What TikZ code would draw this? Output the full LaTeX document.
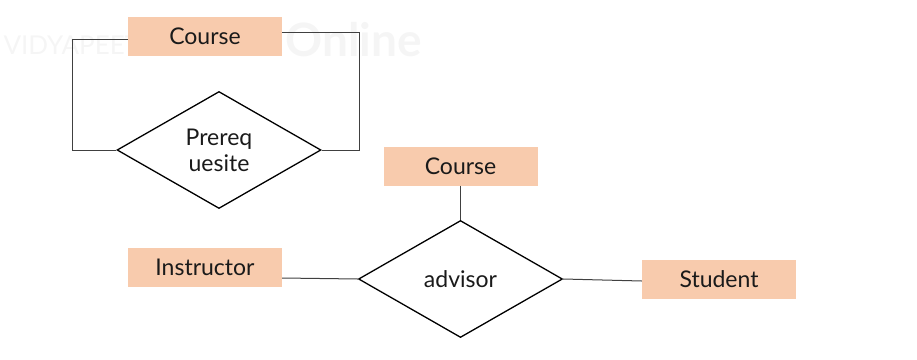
\documentclass[tikz,border=0pt]{standalone}
\usepackage{fontspec}
\setmainfont{Lato}
\usetikzlibrary{shapes.geometric}
\definecolor{entfill}{HTML}{F8CBAD}
\definecolor{wmark}{HTML}{F5F5F5}
\definecolor{ink}{HTML}{1A1A1A}
\tikzset{
  entity/.style={rectangle, fill=entfill, text=ink, minimum width=154pt, minimum height=39pt, inner sep=0pt, font=\fontsize{23}{26}\selectfont},
  relation/.style={diamond, draw=black, text=ink, line width=1.3pt, minimum width=204pt, minimum height=117pt, aspect=1.75, inner sep=0pt, align=center, font=\fontsize{23}{26}\selectfont},
  link/.style={draw=black!75, line width=1pt}
}
\begin{document}
\begin{tikzpicture}[x=1pt,y=-1pt]
  \useasboundingbox (0,0) rectangle (917,359);
  % faint background lettering
  \node[anchor=west, text=wmark, font=\fontsize{26}{28}\selectfont] (wm1) at (0,45) {VIDYAPEETH};
  \node[anchor=west, text=wmark, font=\bfseries\fontsize{46}{50}\selectfont] (wm2) at (282,40) {Online};

  % entities
  \node[entity] (course1) at (205,36.5) {Course};
  \node[entity] (course2) at (460.5,166) {Course};
  \node[entity] (instr) at (205,267.5) {Instructor};
  \node[entity] (stud) at (719,279.5) {Student};

  % relationships
  \node[relation] (prereq) at (219,150) {Prereq\\uesite};
  \node[relation] (advisor) at (460.5,279) {advisor};

  % recursive prerequisite links
  \coordinate (pl) at (72,39);
  \coordinate (pr) at (359,32);
  \draw[link] (course1.west |- pl) -- (pl) -- (pl |- prereq.west) -- (prereq.west);
  \draw[link] (course1.east |- pr) -- (pr) -- (pr |- prereq.east) -- (prereq.east);

  % advisor links
  \draw[link] (course2.south) -- (advisor.north);
  \draw[link] (instr.east |- 0,278) -- (advisor.west);
  \draw[link] (advisor.east) -- (stud.west |- 0,281);
\end{tikzpicture}
\end{document}
